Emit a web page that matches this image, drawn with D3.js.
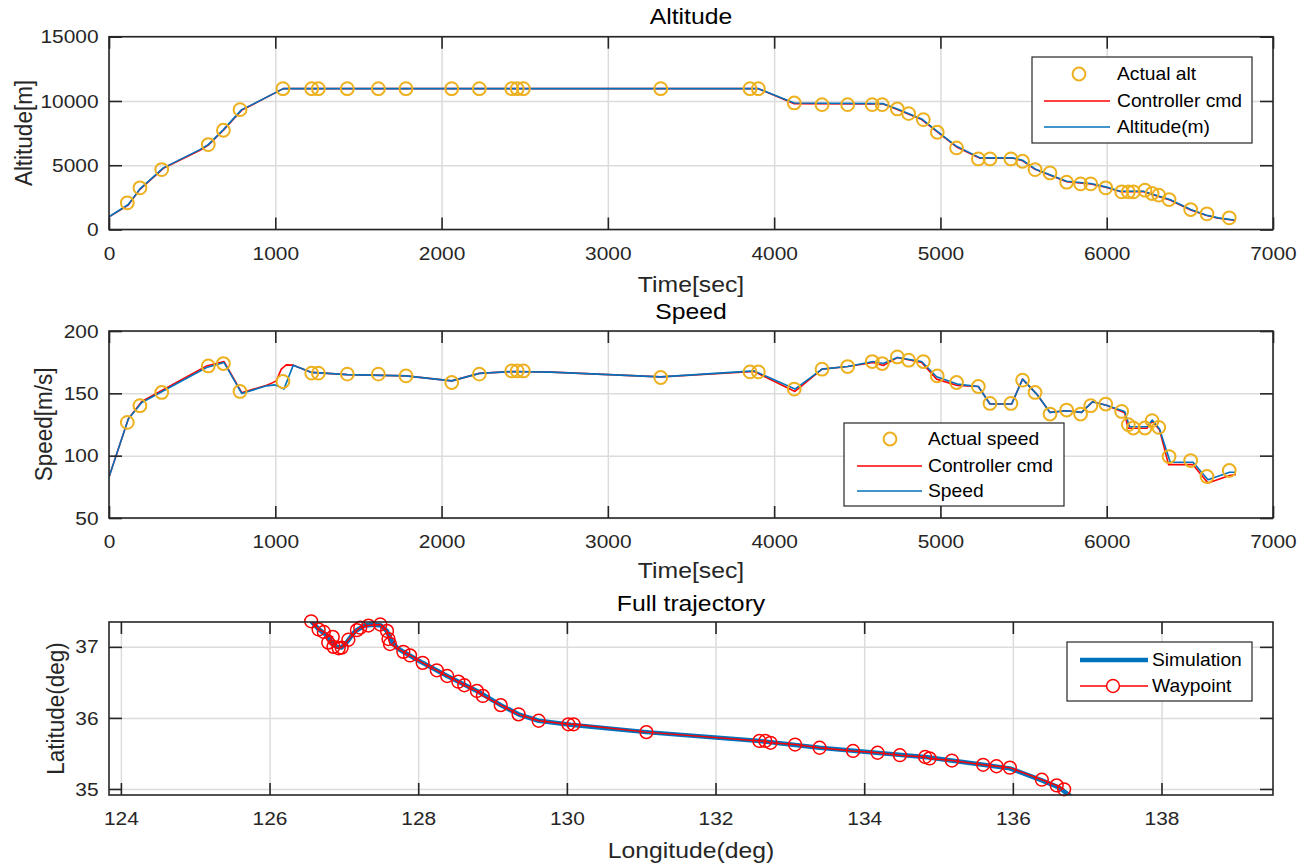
<!DOCTYPE html>
<html>
<head>
<meta charset="utf-8">
<script src="https://cdn.jsdelivr.net/npm/d3@7"></script>
<style>
  body { margin: 0; background: #fff; }
  svg { display: block; font-family: "Liberation Sans", Arial, sans-serif; }
</style>
</head>
<body>
<svg id="chart" width="1313" height="864"></svg>
<script>
// waypoint times (s), shared by the altitude and speed markers
const wpTime = [110, 186, 317, 597, 688, 788, 1046, 1219, 1259, 1433, 1620, 1786, 2061, 2227, 2422, 2455, 2492,
  3318, 3855, 3905, 4121, 4288, 4442, 4590, 4650, 4741, 4809, 4897, 4981, 5097, 5228, 5298, 5424, 5494, 5569,
  5659, 5759, 5843, 5904, 5994, 6090, 6130, 6160, 6230, 6273, 6313, 6375, 6505, 6603, 6737];
const wpAlt = [2075, 3240, 4663, 6606, 7720, 9326, 10958, 10958, 10958, 10958, 10958, 10958, 10958, 10958, 10958,
  10958, 10958, 10958, 10958, 10958, 9844, 9715, 9715, 9715, 9715, 9378, 9015, 8549, 7565, 6347, 5492, 5492, 5492,
  5311, 4663, 4404, 3680, 3550, 3550, 3240, 2930, 2930, 2930, 3060, 2800, 2670, 2330, 1554, 1218, 908];
const wpSpeed = [126.7, 140.1, 150.7, 172, 173.9, 151.5, 159.5, 166.2, 166.2, 165.4, 165.4, 164, 158.7, 165.4, 168,
  168, 168, 162.7, 167.2, 167.2, 153.4, 169.4, 171.5, 175.5, 173.9, 179.2, 176.6, 175.5, 164, 158.7, 155.5, 141.9,
  141.9, 160.6, 150.7, 133.4, 136.6, 133.4, 140.1, 141.4, 135.5, 124.9, 122.2, 122.2, 128.1, 122.7, 99.3, 96.1,
  83.3, 88.1];

// altitude response and command
const altTime = [0, 116, 186, 327, 547, 597, 688, 798, 848, 1048, 3905, 4121, 4656, 4741, 4887, 4981, 5097, 5238,
  5438, 5494, 5569, 5759, 5904, 5994, 6080, 6220, 6282, 6380, 6505, 6601, 6671, 6777];
const altResp = [987, 1943, 3162, 4793, 6217, 6606, 7772, 9326, 9637, 10958, 10958, 9844, 9793, 9378, 8600, 7643,
  6476, 5570, 5570, 5390, 4715, 3757, 3574, 3318, 2980, 2980, 2720, 2330, 1554, 1115, 906, 725];
const altCmd = [987, 1900, 3120, 4760, 6170, 6570, 7720, 9290, 9610, 10958, 10958, 9790, 9760, 9330, 8550, 7600,
  6420, 5540, 5540, 5350, 4680, 3720, 3540, 3290, 2950, 2950, 2690, 2300, 1520, 1090, 880, 700];

// speed response
const spdTime = [0, 116, 197, 587, 692, 798, 948, 998, 1052, 1108, 1219, 1433, 1786, 2061, 2227, 2422, 2660, 3318,
  3880, 4125, 4288, 4442, 4596, 4656, 4741, 4887, 4977, 5101, 5228, 5298, 5428, 5494, 5579, 5659, 5759, 5849, 5914,
  5998, 6108, 6138, 6242, 6274, 6318, 6382, 6519, 6609, 6739, 6777];
const spdResp = [82.8, 129.4, 142.7, 170.7, 174.7, 149.9, 156, 156.8, 153.4, 172.6, 166.8, 165, 164, 160, 166,
  167.5, 167, 163.2, 168, 153.4, 169.4, 171.5, 175.5, 173.9, 178.7, 175.5, 163.3, 157.4, 155.5, 141.4, 141.4,
  161.4, 149.4, 134.7, 136, 134.7, 143.2, 140.5, 135.5, 123.2, 123.2, 128.6, 121.4, 94.7, 94.7, 80.6, 86.7, 86.7];

// speed command
const cmdTime = [0, 116, 197, 587, 692, 798, 948, 966, 1006, 1036, 1066, 1108, 1219, 1433, 1786, 2061, 2227, 2422,
  2660, 3318, 3880, 4125, 4288, 4442, 4596, 4656, 4741, 4887, 4977, 5101, 5228, 5298, 5428, 5494, 5579, 5659, 5759,
  5849, 5914, 5998, 6108, 6128, 6242, 6274, 6318, 6372, 6519, 6609, 6739, 6777];
const spdCmd = [82.8, 129.4, 143.5, 172, 175.5, 150.5, 156.5, 157.4, 160, 169.4, 172.8, 172.6, 166.8, 165, 164,
  160, 166, 167.5, 167, 163.2, 167.5, 151.5, 169.4, 171.5, 174.7, 172.3, 178.7, 174.7, 161.4, 156.3, 155.5, 141.4,
  141.4, 161.4, 149.4, 134.7, 136, 134.7, 143.2, 140.5, 134.5, 122, 122, 127.8, 120.5, 92.8, 92.8, 78, 84.1, 84.9];

// trajectory waypoints
const wpLon = [126.56, 126.66, 126.73, 126.85, 126.79, 126.86, 126.93, 126.97, 127.06, 127.175, 127.22, 127.33,
  127.49, 127.58, 127.60, 127.62, 127.80, 127.89, 128.06, 128.25, 128.39, 128.54, 128.62, 128.79, 128.87, 129.11,
  129.35, 129.62, 130.02, 130.09, 131.07, 132.59, 132.67, 132.74, 133.07, 133.40, 133.85, 134.18, 134.48, 134.82,
  134.88, 135.18, 135.60, 135.78, 135.96, 136.39, 136.59, 136.69];
const wpLat = [37.36, 37.245, 37.21, 37.14, 37.06, 37.0, 36.98, 36.99, 37.10, 37.235, 37.27, 37.30, 37.315,
  37.225, 37.11, 37.04, 36.93, 36.88, 36.775, 36.67, 36.59, 36.51, 36.46, 36.38, 36.31, 36.18, 36.05, 35.96,
  35.91, 35.91, 35.80, 35.676, 35.676, 35.65, 35.625, 35.58, 35.535, 35.51, 35.475, 35.45, 35.43, 35.40, 35.34,
  35.32, 35.30, 35.13, 35.05, 34.995];

// simulated track
const simLon = [126.56, 126.66, 126.75, 126.83, 126.90, 126.97, 127.05, 127.15, 127.28, 127.40, 127.50, 127.58,
  127.64, 127.72, 127.85, 128.06, 128.39, 128.79, 129.11, 129.35, 129.62, 130.05, 131.07, 132.6, 133.4, 134.2,
  134.85, 135.6, 135.96, 136.39, 136.62, 136.80];
const simLat = [37.36, 37.25, 37.18, 37.08, 37.00, 36.99, 37.08, 37.22, 37.30, 37.31, 37.30, 37.22, 37.08, 36.98,
  36.90, 36.775, 36.59, 36.38, 36.18, 36.05, 35.96, 35.905, 35.80, 35.675, 35.58, 35.505, 35.445, 35.34, 35.29,
  35.12, 35.02, 34.88];

const timeTicks = [0, 1000, 2000, 3000, 4000, 5000, 6000, 7000];
const altTicks = [0, 5000, 10000, 15000];
const spdTicks = [50, 100, 150, 200];
const lonTicks = [124, 126, 128, 130, 132, 134, 136, 138];
const latTicks = [35, 36, 37];

const ORANGE = "#EDB120", BLUE = "#0072BD", RED = "#FF0000", INK = "#262626";
const SX = 1.1; // the picture is a little wider than tall

const svg = d3.select("#chart");

// d3 axes put their own font on the group; drop it and widen the labels
function fixText(a) {
    a.attr("font-size", null).attr("font-family", null);
    a.selectAll("text").attr("transform", `scale(${SX},1)`).attr("fill", INK);
}

function txt(x, y, str, size, anchor, rot) {
    return svg.append("text")
        .attr("transform", `translate(${x},${y}) scale(${SX},1)` + (rot ? " rotate(-90)" : ""))
        .attr("text-anchor", anchor)
        .style("font-size", size + "px")
        .attr("fill", INK)
        .text(str);
}

// one MATLAB style axes: grid, box, inward ticks on all sides
function makeAxes(id, xDom, yDom, box, xt, yt) {
    const x = d3.scaleLinear().domain(xDom).range([box.l, box.r]);
    const y = d3.scaleLinear().domain(yDom).range([box.b, box.t]);
    const g = svg.append("g");

    g.append("g").attr("transform", `translate(0,${box.b})`)
        .call(d3.axisBottom(x).tickValues(xt).tickSize(-(box.b - box.t)).tickFormat(""))
        .call(a => a.select(".domain").remove())
        .selectAll("line").attr("stroke", "#dcdcdc").attr("stroke-width", 1.5);
    g.append("g").attr("transform", `translate(${box.l},0)`)
        .call(d3.axisLeft(y).tickValues(yt).tickSize(-(box.r - box.l)).tickFormat(""))
        .call(a => a.select(".domain").remove())
        .selectAll("line").attr("stroke", "#dcdcdc").attr("stroke-width", 1.5);

    svg.append("clipPath").attr("id", id)
        .append("rect").attr("x", box.l).attr("y", box.t)
        .attr("width", box.r - box.l).attr("height", box.b - box.t);

    const lines = svg.append("g").attr("clip-path", `url(#${id})`);
    const marks = svg.append("g");

    const frame = svg.append("g").style("font-size", "19px");
    frame.append("g").attr("transform", `translate(0,${box.b})`)
        .call(d3.axisBottom(x).tickValues(xt).tickSizeInner(-12).tickSizeOuter(0).tickPadding(17).tickFormat(d3.format("d")))
        .call(fixText);
    frame.append("g").attr("transform", `translate(0,${box.t})`)
        .call(d3.axisTop(x).tickValues(xt).tickSizeInner(-12).tickSizeOuter(0).tickFormat(""));
    frame.append("g").attr("transform", `translate(${box.l},0)`)
        .call(d3.axisLeft(y).tickValues(yt).tickSizeInner(-13).tickSizeOuter(0).tickPadding(9.5).tickFormat(d3.format("d")))
        .call(fixText);
    frame.append("g").attr("transform", `translate(${box.r},0)`)
        .call(d3.axisRight(y).tickValues(yt).tickSizeInner(-13).tickSizeOuter(0).tickFormat(""));
    frame.selectAll(".domain").remove();
    frame.selectAll("line").attr("stroke", INK).attr("stroke-width", 1.6);
    frame.append("rect").attr("x", box.l).attr("y", box.t)
        .attr("width", box.r - box.l).attr("height", box.b - box.t)
        .attr("fill", "none").attr("stroke", INK).attr("stroke-width", 1.6);

    return { x, y, lines, marks };
}

function drawLine(ax, xs, ys, color, w) {
    ax.lines.append("path")
        .datum(xs.map((v, i) => [v, ys[i]]))
        .attr("fill", "none").attr("stroke", color).attr("stroke-width", w)
        .attr("stroke-linejoin", "round")
        .attr("d", d3.line().x(d => ax.x(d[0])).y(d => ax.y(d[1])));
}

function drawCircles(ax, xs, ys, color, w) {
    ax.marks.selectAll(null)
        .data(xs.map((v, i) => [v, ys[i]]))
        .enter().append("circle")
        .attr("cx", d => ax.x(d[0])).attr("cy", d => ax.y(d[1])).attr("r", 6.4)
        .attr("fill", "none").attr("stroke", color).attr("stroke-width", w);
}

function legend(x, y, w, h, rows) {
    const g = svg.append("g");
    g.append("rect").attr("x", x).attr("y", y).attr("width", w).attr("height", h)
        .attr("fill", "#fff").attr("stroke", INK).attr("stroke-width", 1.2);
    rows.forEach(r => {
        if (r.line) {
            g.append("line").attr("x1", r.x1).attr("x2", r.x2).attr("y1", r.y).attr("y2", r.y)
                .attr("stroke", r.line).attr("stroke-width", r.w);
        }
        if (r.circle) {
            g.append("circle").attr("cx", r.cx).attr("cy", r.y).attr("r", 6.4)
                .attr("fill", r.circleFill || "none").attr("stroke", r.circle).attr("stroke-width", r.cw);
        }
        g.append("text")
            .attr("transform", `translate(${r.tx},${r.y}) scale(${SX},1)`)
            .attr("dy", "0.35em").style("font-size", "17.5px").attr("fill", "#000")
            .text(r.label);
    });
}

// ---- Altitude ----
const ax1 = makeAxes("clipAlt", [0, 7000], [0, 15000], { l: 109, r: 1273, t: 36.7, b: 229.5 }, timeTicks, altTicks);
drawLine(ax1, altTime, altCmd, RED, 1.6);
drawLine(ax1, altTime, altResp, BLUE, 1.6);
drawCircles(ax1, wpTime, wpAlt, ORANGE, 2);
txt(691, 24, "Altitude", 22.5, "middle").attr("fill", "#000");
txt(691, 292, "Time[sec]", 22.5, "middle");
txt(31.5, 133, "Altitude[m]", 22.5, "middle", true);
legend(1032, 57, 220, 86, [
    { label: "Actual alt", y: 74, circle: ORANGE, cw: 2, cx: 1079, tx: 1117 },
    { label: "Controller cmd", y: 101, line: RED, w: 1.6, x1: 1044, x2: 1110, tx: 1117 },
    { label: "Altitude(m)", y: 127, line: BLUE, w: 1.6, x1: 1044, x2: 1110, tx: 1117 }
]);

// ---- Speed ----
const ax2 = makeAxes("clipSpd", [0, 7000], [50, 200], { l: 109, r: 1273, t: 331, b: 518 }, timeTicks, spdTicks);
drawLine(ax2, cmdTime, spdCmd, RED, 1.6);
drawLine(ax2, spdTime, spdResp, BLUE, 1.6);
drawCircles(ax2, wpTime, wpSpeed, ORANGE, 2);
txt(691, 319, "Speed", 22.5, "middle").attr("fill", "#000");
txt(691, 578, "Time[sec]", 22.5, "middle");
txt(51.5, 424.5, "Speed[m/s]", 22.5, "middle", true);
legend(844, 423, 220, 83, [
    { label: "Actual speed", y: 439, circle: ORANGE, cw: 2, cx: 890, tx: 928 },
    { label: "Controller cmd", y: 466, line: RED, w: 1.6, x1: 857, x2: 922, tx: 928 },
    { label: "Speed", y: 491, line: BLUE, w: 1.6, x1: 857, x2: 922, tx: 928 }
]);

// ---- Full trajectory ----
const ax3 = makeAxes("clipTrj", [123.84, 139.5], [34.915, 37.35], { l: 109, r: 1273, t: 622, b: 795 }, lonTicks, latTicks);
drawLine(ax3, simLon, simLat, BLUE, 4.5);
drawLine(ax3, wpLon, wpLat, RED, 1.5);
drawCircles(ax3, wpLon, wpLat, RED, 1.5);
txt(691, 611, "Full trajectory", 22.5, "middle").attr("fill", "#000");
txt(691, 858, "Longitude(deg)", 22.5, "middle");
txt(63.5, 708.5, "Latitude(deg)", 22.5, "middle", true);
legend(1067, 642, 185, 59, [
    { label: "Simulation", y: 660, line: BLUE, w: 4.5, x1: 1080, x2: 1148, tx: 1152 },
    { label: "Waypoint", y: 686, line: RED, w: 1.5, x1: 1080, x2: 1148, circle: RED, cw: 1.5, cx: 1113, circleFill: "#fff", tx: 1152 }
]);
</script>
</body>
</html>
